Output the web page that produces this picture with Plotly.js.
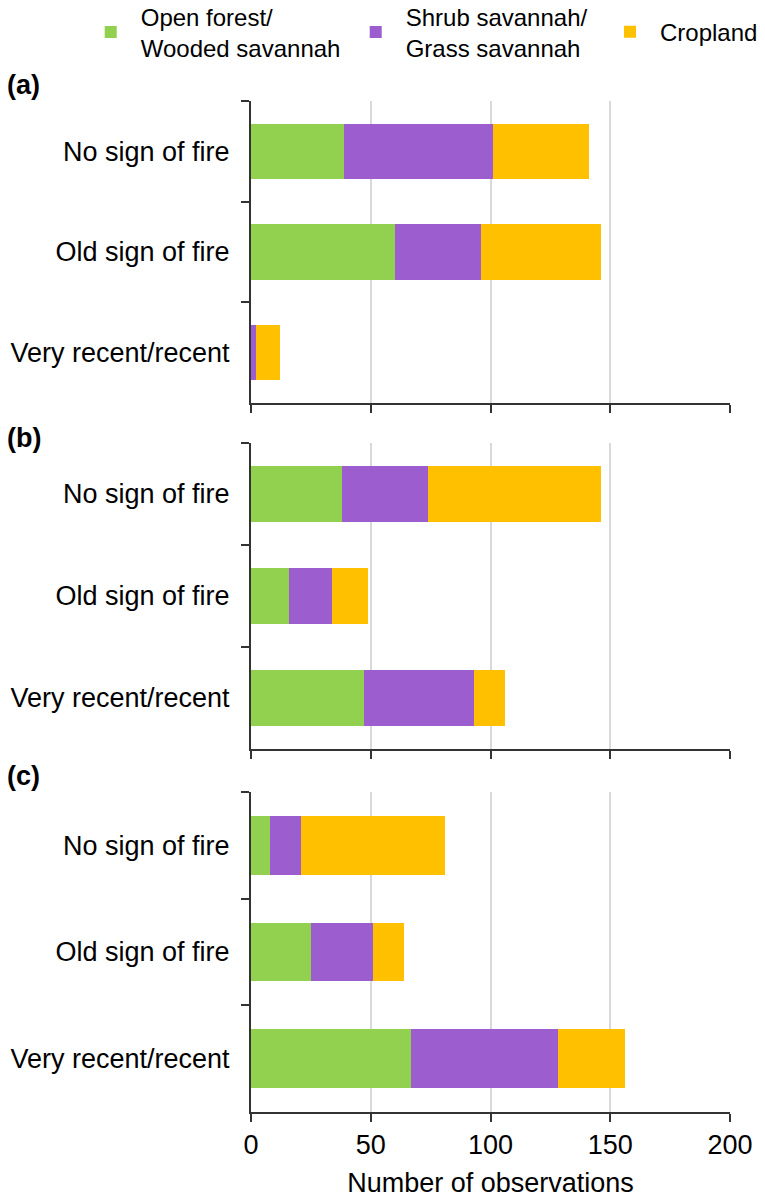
<!DOCTYPE html>
<html>
<head>
<meta charset="utf-8">
<script src="https://cdn.plot.ly/plotly-3.0.1.min.js"></script>
<style>html,body{margin:0;padding:0;background:#fff;}#chart{width:765px;height:1198px;}</style>
</head>
<body>
<div id="chart"></div>
<script>
const categories = ["No sign of fire", "Old sign of fire", "Very recent/recent"];
const seriesNames = ["Open forest/<br>Wooded savannah", "Shrub savannah/<br>Grass savannah", "Cropland"];
const seriesColors = ["#92D050", "#9C5ECE", "#FFC000"];
const panelLabels = ["(a)", "(b)", "(c)"];

const panelA_forest = [39, 60, 0];
const panelA_shrub  = [62, 36, 2];
const panelA_crop   = [40, 50, 10];

const panelB_forest = [38, 16, 47];
const panelB_shrub  = [36, 18, 46];
const panelB_crop   = [72, 15, 13];

const panelC_forest = [8, 25, 67];
const panelC_shrub  = [13, 26, 61];
const panelC_crop   = [60, 13, 28];

const xTickVals = [0, 50, 100, 150, 200];
const xTitle = "Number of observations";

const panels = [
  [panelA_forest, panelA_shrub, panelA_crop],
  [panelB_forest, panelB_shrub, panelB_crop],
  [panelC_forest, panelC_shrub, panelC_crop]
];

const FONT = "Liberation Sans, Arial, Helvetica, sans-serif";
const legendIds = ["legend", "legend2", "legend3"];
const traces = [];
panels.forEach((p, pi) => {
  p.forEach((vals, si) => {
    traces.push({
      type: "bar",
      orientation: "h",
      x: vals,
      y: categories,
      name: seriesNames[si],
      legendgroup: "s" + si,
      legend: legendIds[si],
      showlegend: pi === 0,
      marker: {color: seriesColors[si], line: {width: 0}},
      xaxis: pi === 0 ? "x" : "x" + (pi + 1),
      yaxis: pi === 0 ? "y" : "y" + (pi + 1),
      hoverinfo: "x+name"
    });
  });
});

function legendAt(x) {
  return {
    orientation: "v", x: x, xanchor: "left", y: 1.068, yanchor: "middle",
    font: {family: FONT, size: 24, color: "#000"},
    itemwidth: 50, bgcolor: "rgba(0,0,0,0)",
    itemclick: false, itemdoubleclick: false
  };
}

const domains = [[0.7013, 1.0], [0.3591, 0.6617], [0.0, 0.3165]];
const layout = {
  width: 765, height: 1198,
  margin: {l: 251, r: 35, t: 101, b: 86, autoexpand: false},
  paper_bgcolor: "#fff", plot_bgcolor: "#fff",
  font: {family: FONT, size: 27, color: "#000"},
  barmode: "stack",
  bargap: 0.45,
  showlegend: true,
  legend: legendAt(-0.3555),
  legend2: legendAt(0.1977),
  legend3: legendAt(0.7286),
  annotations: []
};

const yAnnY = [1.0158, 0.6667, 0.3323];
for (let i = 0; i < 3; i++) {
  const xs = i === 0 ? "xaxis" : "xaxis" + (i + 1);
  const ys = i === 0 ? "yaxis" : "yaxis" + (i + 1);
  const yid = i === 0 ? "y" : "y" + (i + 1);
  const xid = i === 0 ? "x" : "x" + (i + 1);
  layout[xs] = {
    domain: [0, 1], anchor: yid, range: [0, 200],
    tickvals: xTickVals, ticktext: xTickVals.map(String),
    showticklabels: i === 2,
    ticks: "outside", ticklen: 8, tickwidth: 2, tickcolor: "#333",
    showline: true, linecolor: "#333", linewidth: 2,
    showgrid: true, gridcolor: "#d9d9d9", gridwidth: 1.5,
    zeroline: false, fixedrange: true,
    tickfont: {family: FONT, size: 27, color: "#000"}
  };
  if (i === 2) {
    layout[xs].title = {text: xTitle, font: {family: FONT, size: 27, color: "#000"}, standoff: 14};
  }
  layout[ys] = {
    domain: domains[i], anchor: xid,
    type: "category", categoryorder: "array", categoryarray: categories,
    autorange: "reversed",
    ticks: "outside", tickson: "boundaries", ticklen: 8, tickwidth: 2, tickcolor: "#333",
    showline: true, linecolor: "#333", linewidth: 2,
    showgrid: false, zeroline: false, fixedrange: true,
    ticklabelstandoff: 14,
    tickfont: {family: FONT, size: 27, color: "#000"}
  };
  layout.annotations.push({
    text: "<b>" + panelLabels[i] + "</b>", xref: "paper", yref: "paper",
    x: -0.513, y: yAnnY[i], xanchor: "left", yanchor: "middle", showarrow: false,
    font: {family: FONT, size: 27, color: "#000"}
  });
}

Plotly.newPlot("chart", traces, layout, {displayModeBar: false});
</script>
</body>
</html>
